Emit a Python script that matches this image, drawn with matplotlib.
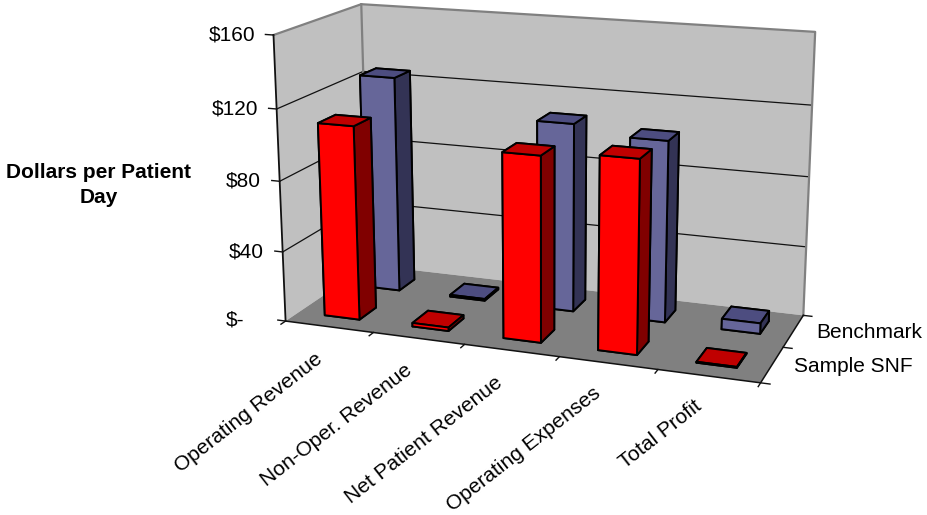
import matplotlib
matplotlib.use('Agg')
import matplotlib.pyplot as plt
from mpl_toolkits.mplot3d.art3d import Poly3DCollection

plt.rcParams['font.family'] = ['Liberation Sans', 'DejaVu Sans']

categories = ['Operating Revenue', 'Non-Oper. Revenue', 'Net Patient Revenue',
              'Operating Expenses', 'Total Profit']
series_names = ['Sample SNF', 'Benchmark']
sample_snf = [110, 2, 103, 106, 0.5]
benchmark = [126, 1, 108, 103, 6]
value_ticks = [0, 40, 80, 120, 160]
value_labels = ['$-', '$40', '$80', '$120', '$160']

# face order for bar3d: bottom, top, front, back, left, right
red_faces = ['#800000', '#C00000', '#FF0000', '#800000', '#800000', '#800000']
blue_faces = ['#333355', '#4D4D80', '#666699', '#333355', '#333355', '#333355']

W, H = 927, 515
X_MAX, Y_MAX, Z_MAX = len(categories), len(series_names), value_ticks[-1]


def px(x, y):
    return x / W, 1 - y / H


fig = plt.figure(figsize=(W / 100, H / 100), dpi=100)
# camera fitted to the reference's wall corners
size, left, bottom = 588.54, 243.45, 33.74
ax = fig.add_axes([left / W, bottom / H, size / W, size / H], projection='3d',
                  computed_zorder=False)
ax.view_init(elev=15.1758, azim=-70.201)
ax.set_proj_type('persp', focal_length=0.5372)
ax.set_box_aspect((4.1735, 1.6571, 2.5))
ax.set_xlim(0, X_MAX)
ax.set_ylim(0, Y_MAX)
ax.set_zlim(0, Z_MAX)
ax.set_axis_off()
ax.patch.set_alpha(0)

# Walls and floor
floor = [(0, 0, 0), (X_MAX, 0, 0), (X_MAX, Y_MAX, 0), (0, Y_MAX, 0)]
back_wall = [(0, Y_MAX, 0), (X_MAX, Y_MAX, 0), (X_MAX, Y_MAX, Z_MAX), (0, Y_MAX, Z_MAX)]
side_wall = [(0, 0, 0), (0, Y_MAX, 0), (0, Y_MAX, Z_MAX), (0, 0, Z_MAX)]
ax.add_collection3d(Poly3DCollection([back_wall], facecolors='#C0C0C0', edgecolors='none', zorder=1))
ax.add_collection3d(Poly3DCollection([side_wall], facecolors='#C0C0C0', edgecolors='none', zorder=1))
ax.add_collection3d(Poly3DCollection([floor], facecolors='#808080', edgecolors='none', zorder=2))

# Gridlines
for v in value_ticks[1:-1]:
    ax.plot([0, 0, X_MAX], [0, Y_MAX, Y_MAX], [v, v, v], color='#111111', lw=0.9, zorder=3)

# Wall outlines
ax.plot([0, 0, X_MAX, X_MAX], [0, Y_MAX, Y_MAX, Y_MAX], [Z_MAX, Z_MAX, Z_MAX, 0],
        color='#808080', lw=1.6, zorder=3)
ax.plot([0, 0], [Y_MAX, Y_MAX], [Z_MAX, 0], color='#808080', lw=1.6, zorder=3)

# Axis lines and ticks
ax.plot([0, 0], [0, 0], [0, Z_MAX], color='#111111', lw=1.3, zorder=4)
ax.plot([0, X_MAX, X_MAX], [0, 0, Y_MAX], [0, 0, 0], color='#111111', lw=1.1, zorder=4)
for v in value_ticks:
    ax.plot([-0.09, 0], [0, 0], [v, v], color='#111111', lw=1.0, zorder=4)
for i in range(X_MAX + 1):
    ax.plot([i, i], [0, -0.1], [0, 0], color='#111111', lw=1.0, zorder=4)
for s in range(Y_MAX + 1):
    ax.plot([X_MAX, X_MAX + 0.09], [s, s], [0, 0], color='#111111', lw=1.0, zorder=4)

# Bars: back row first, left to right
z = 5
for s, values, faces in [(1, benchmark, blue_faces), (0, sample_snf, red_faces)]:
    for i, v in enumerate(values):
        ax.bar3d(i + 0.3, s + 0.3, 0, 0.4, 0.4, v, color=faces, shade=False,
                 edgecolor='black', linewidth=1.4, zorder=z)
        z += 1

# Text
tick_right = [244, 264, 261, 258, 255]
tick_y = [320, 252, 181, 109, 35]
for label, x, y in zip(value_labels, tick_right, tick_y):
    fig.text(*px(x, y), label, fontsize=15, ha='right', va='center')

label_x = [314, 404, 494, 592, 693]
label_y = [349, 360, 373, 384, 396]
for label, x, y in zip(categories, label_x, label_y):
    fig.text(*px(x, y), label, fontsize=15, rotation=38, ha='right', va='top',
             rotation_mode='anchor')

fig.text(*px(816, 332.5), series_names[1], fontsize=15, ha='left', va='center')
fig.text(*px(794, 366.5), series_names[0], fontsize=15, ha='left', va='center')
fig.text(*px(99, 185), 'Dollars per Patient\nDay', fontsize=15, fontweight='bold',
         ha='center', va='center', linespacing=1.45)

fig.savefig('out.png', dpi=100)
